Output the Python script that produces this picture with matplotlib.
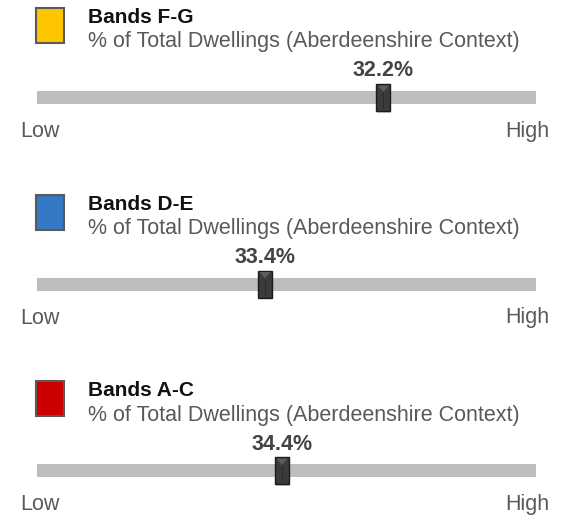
import matplotlib
matplotlib.use("Agg")
import matplotlib.pyplot as plt
from matplotlib.patches import Rectangle, Polygon

plt.rcParams['font.family'] = ['Liberation Sans', 'DejaVu Sans']

# one slider per band group, top to bottom
bands = ["Bands F-G", "Bands D-E", "Bands A-C"]
colors = ["#FFC600", "#3478C6", "#CC0000"]
values = [32.2, 33.4, 34.4]           # % of total dwellings
positions = [0.694, 0.457, 0.491]     # marker position on the Low-High scale (0..1)
subtitle = "% of Total Dwellings (Aberdeenshire Context)"
low_label, high_label = "Low", "High"

W, H = 567, 522
fig = plt.figure(figsize=(W / 100, H / 100), dpi=100)
ax = fig.add_axes([0, 0, 1, 1])
ax.set_xlim(0, W)
ax.set_ylim(H, 0)
ax.axis("off")

track_x0, track_x1 = 37, 536
step = 186.5

for i, (name, col, val, pos) in enumerate(zip(bands, colors, values, positions)):
    y0 = i * step
    # colour swatch
    ax.add_patch(Rectangle((36, y0 + 8), 28, 35, facecolor=col,
                           edgecolor="#5a5a5a", lw=1.5))
    ax.text(88, y0 + 17.5, name, fontsize=15, fontweight="bold",
            color="#111111", va="center", ha="left")
    ax.text(88, y0 + 42, subtitle, fontsize=15.5, color="#595959",
            va="center", ha="left")

    # track
    ax.add_patch(Rectangle((track_x0, y0 + 91), track_x1 - track_x0, 13,
                           facecolor="#BDBDBD", edgecolor="none"))

    # marker
    mx = track_x0 + pos * (track_x1 - track_x0)
    mw, mh = 14, 27
    my = y0 + 84
    ax.add_patch(Rectangle((mx - mw / 2 + 1, my + 1.5), mw, mh,
                           facecolor="#000000", alpha=0.18, edgecolor="none"))
    ax.add_patch(Rectangle((mx - mw / 2, my), mw, mh, facecolor="#3b3b3b",
                           edgecolor="#1c1c1c", lw=1))
    ax.add_patch(Polygon([(mx - mw / 2 + 1.5, my + 1.5), (mx + mw / 2 - 1.5, my + 1.5),
                          (mx, my + 8)], closed=True, facecolor="#5c5c5c",
                         edgecolor="none"))
    ax.add_patch(Rectangle((mx - 0.5, my + 8), 1, mh - 10, facecolor="#2a2a2a",
                           edgecolor="none"))

    ax.text(mx, y0 + 71, f"{val:.1f}%", fontsize=15.5, fontweight="bold",
            color="#444444", ha="center", va="center")

    ax.text(20, y0 + 131.5, low_label, fontsize=15.5, color="#595959",
            ha="left", va="center")
    ax.text(549, y0 + 131.5, high_label, fontsize=15.5, color="#595959",
            ha="right", va="center")

fig.savefig("out.png", dpi=100)
